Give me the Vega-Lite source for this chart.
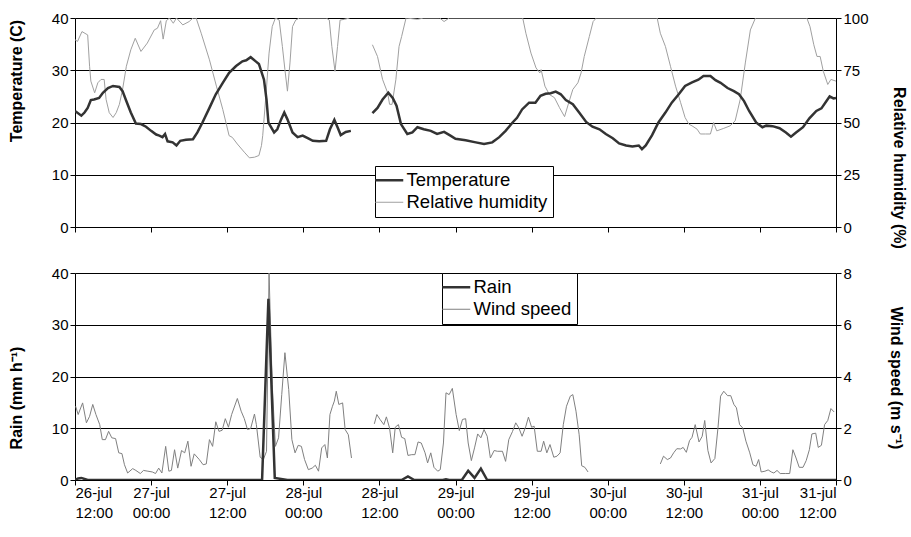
{
  "$schema": "https://vega.github.io/schema/vega-lite/v6.json",
  "background": "white",
  "padding": {"left": 8, "top": 11, "right": 5, "bottom": 5},
  "config": {
    "font": "Liberation Sans",
    "view": {"stroke": null},
    "axis": {
      "labelFont": "Liberation Sans", "labelFontSize": 15, "labelColor": "black",
      "titleFont": "Liberation Sans", "titleFontSize": 16, "titleFontWeight": "bold", "titleColor": "black",
      "domainColor": "black", "tickColor": "black", "tickSize": 5, "gridColor": "black", "gridOpacity": 1,
      "labelPadding": 2
    },
    "legend": {
      "labelFont": "Liberation Sans", "labelFontSize": 18.5, "labelColor": "black",
      "strokeColor": "black", "fillColor": "white", "padding": 5, "cornerRadius": 0,
      "symbolType": "stroke", "symbolSize": 784, "rowPadding": 3, "labelOffset": 8, "title": null
    }
  },
  "datasets": {
    "temperature": [
      {"time": "2009-07-26T12:00", "temperature": 22.2}, {"time": "2009-07-26T13:00", "temperature": 21.3},
      {"time": "2009-07-26T13:30", "temperature": 21.9}, {"time": "2009-07-26T14:00", "temperature": 22.8},
      {"time": "2009-07-26T14:30", "temperature": 24.3}, {"time": "2009-07-26T15:00", "temperature": 24.4},
      {"time": "2009-07-26T15:48", "temperature": 24.7}, {"time": "2009-07-26T16:24", "temperature": 25.7},
      {"time": "2009-07-26T17:12", "temperature": 26.6}, {"time": "2009-07-26T18:00", "temperature": 27.0},
      {"time": "2009-07-26T19:00", "temperature": 26.8}, {"time": "2009-07-26T19:30", "temperature": 26.0},
      {"time": "2009-07-26T20:00", "temperature": 24.4}, {"time": "2009-07-26T20:48", "temperature": 21.9},
      {"time": "2009-07-26T21:36", "temperature": 19.8}, {"time": "2009-07-26T22:24", "temperature": 19.7},
      {"time": "2009-07-26T23:12", "temperature": 19.2}, {"time": "2009-07-27T00:00", "temperature": 18.4},
      {"time": "2009-07-27T00:48", "temperature": 17.7}, {"time": "2009-07-27T01:18", "temperature": 17.5},
      {"time": "2009-07-27T01:48", "temperature": 17.2}, {"time": "2009-07-27T02:12", "temperature": 17.8},
      {"time": "2009-07-27T02:36", "temperature": 16.4}, {"time": "2009-07-27T03:24", "temperature": 16.2},
      {"time": "2009-07-27T04:00", "temperature": 15.6}, {"time": "2009-07-27T04:36", "temperature": 16.5},
      {"time": "2009-07-27T05:30", "temperature": 16.7}, {"time": "2009-07-27T06:36", "temperature": 16.8},
      {"time": "2009-07-27T07:18", "temperature": 18.1}, {"time": "2009-07-27T08:06", "temperature": 20.0},
      {"time": "2009-07-27T09:12", "temperature": 22.8}, {"time": "2009-07-27T10:12", "temperature": 25.4},
      {"time": "2009-07-27T11:18", "temperature": 27.6}, {"time": "2009-07-27T12:18", "temperature": 29.5},
      {"time": "2009-07-27T13:24", "temperature": 30.8}, {"time": "2009-07-27T14:24", "temperature": 31.7},
      {"time": "2009-07-27T15:00", "temperature": 31.9}, {"time": "2009-07-27T15:42", "temperature": 32.5},
      {"time": "2009-07-27T16:30", "temperature": 31.7}, {"time": "2009-07-27T17:00", "temperature": 31.2},
      {"time": "2009-07-27T17:48", "temperature": 28.2}, {"time": "2009-07-27T18:12", "temperature": 24.4},
      {"time": "2009-07-27T18:30", "temperature": 20.0}, {"time": "2009-07-27T19:24", "temperature": 18.1},
      {"time": "2009-07-27T19:54", "temperature": 18.7}, {"time": "2009-07-27T20:30", "temperature": 20.6},
      {"time": "2009-07-27T21:00", "temperature": 21.9}, {"time": "2009-07-27T21:30", "temperature": 20.6},
      {"time": "2009-07-27T22:18", "temperature": 18.1}, {"time": "2009-07-27T23:06", "temperature": 17.2},
      {"time": "2009-07-27T23:54", "temperature": 17.5}, {"time": "2009-07-28T00:42", "temperature": 17.0},
      {"time": "2009-07-28T01:30", "temperature": 16.5}, {"time": "2009-07-28T02:30", "temperature": 16.4},
      {"time": "2009-07-28T03:36", "temperature": 16.5}, {"time": "2009-07-28T04:12", "temperature": 18.7},
      {"time": "2009-07-28T04:54", "temperature": 20.5}, {"time": "2009-07-28T05:24", "temperature": 19.1},
      {"time": "2009-07-28T05:54", "temperature": 17.6}, {"time": "2009-07-28T06:42", "temperature": 18.2},
      {"time": "2009-07-28T07:30", "temperature": 18.4}, {"time": "2009-07-28T09:00", "temperature": null},
      {"time": "2009-07-28T10:54", "temperature": 21.8}, {"time": "2009-07-28T11:42", "temperature": 22.8},
      {"time": "2009-07-28T12:30", "temperature": 24.4}, {"time": "2009-07-28T13:24", "temperature": 25.7},
      {"time": "2009-07-28T14:06", "temperature": 24.7}, {"time": "2009-07-28T14:42", "temperature": 23.2},
      {"time": "2009-07-28T15:24", "temperature": 19.7}, {"time": "2009-07-28T16:24", "temperature": 17.8},
      {"time": "2009-07-28T17:12", "temperature": 18.1}, {"time": "2009-07-28T18:00", "temperature": 19.1},
      {"time": "2009-07-28T19:00", "temperature": 18.7}, {"time": "2009-07-28T20:06", "temperature": 18.4},
      {"time": "2009-07-28T21:06", "temperature": 17.8}, {"time": "2009-07-28T22:12", "temperature": 18.2},
      {"time": "2009-07-28T23:12", "temperature": 17.5}, {"time": "2009-07-29T00:00", "temperature": 16.9},
      {"time": "2009-07-29T01:36", "temperature": 16.6}, {"time": "2009-07-29T03:12", "temperature": 16.2},
      {"time": "2009-07-29T04:30", "temperature": 15.9}, {"time": "2009-07-29T05:48", "temperature": 16.2},
      {"time": "2009-07-29T06:54", "temperature": 17.2}, {"time": "2009-07-29T07:54", "temperature": 18.4},
      {"time": "2009-07-29T09:00", "temperature": 20.0}, {"time": "2009-07-29T09:42", "temperature": 20.9},
      {"time": "2009-07-29T10:30", "temperature": 22.5}, {"time": "2009-07-29T11:36", "temperature": 23.8},
      {"time": "2009-07-29T12:36", "temperature": 23.8}, {"time": "2009-07-29T13:24", "temperature": 25.1},
      {"time": "2009-07-29T14:12", "temperature": 25.5}, {"time": "2009-07-29T15:00", "temperature": 25.6},
      {"time": "2009-07-29T15:48", "temperature": 25.9}, {"time": "2009-07-29T16:36", "temperature": 25.4},
      {"time": "2009-07-29T17:24", "temperature": 24.3}, {"time": "2009-07-29T18:30", "temperature": 23.5},
      {"time": "2009-07-29T19:30", "temperature": 21.9}, {"time": "2009-07-29T20:36", "temperature": 20.1},
      {"time": "2009-07-29T21:36", "temperature": 19.2}, {"time": "2009-07-29T22:42", "temperature": 18.7},
      {"time": "2009-07-29T23:42", "temperature": 17.8}, {"time": "2009-07-30T00:48", "temperature": 17.0},
      {"time": "2009-07-30T01:48", "temperature": 16.0}, {"time": "2009-07-30T02:54", "temperature": 15.6},
      {"time": "2009-07-30T03:54", "temperature": 15.4}, {"time": "2009-07-30T04:54", "temperature": 15.6},
      {"time": "2009-07-30T05:24", "temperature": 14.9}, {"time": "2009-07-30T06:00", "temperature": 15.6},
      {"time": "2009-07-30T07:00", "temperature": 17.6}, {"time": "2009-07-30T08:00", "temperature": 20.0},
      {"time": "2009-07-30T09:06", "temperature": 21.9}, {"time": "2009-07-30T10:06", "temperature": 23.8},
      {"time": "2009-07-30T11:12", "temperature": 25.4}, {"time": "2009-07-30T12:12", "temperature": 27.0},
      {"time": "2009-07-30T13:18", "temperature": 27.7}, {"time": "2009-07-30T14:18", "temperature": 28.2},
      {"time": "2009-07-30T15:06", "temperature": 28.9}, {"time": "2009-07-30T16:12", "temperature": 28.9},
      {"time": "2009-07-30T17:00", "temperature": 28.1}, {"time": "2009-07-30T17:48", "temperature": 27.6},
      {"time": "2009-07-30T18:54", "temperature": 26.6}, {"time": "2009-07-30T19:54", "temperature": 26.0},
      {"time": "2009-07-30T20:42", "temperature": 25.4}, {"time": "2009-07-30T21:30", "temperature": 24.1},
      {"time": "2009-07-30T22:18", "temperature": 22.2}, {"time": "2009-07-30T23:24", "temperature": 20.0},
      {"time": "2009-07-31T00:24", "temperature": 19.1}, {"time": "2009-07-31T01:00", "temperature": 19.4},
      {"time": "2009-07-31T02:00", "temperature": 19.3}, {"time": "2009-07-31T03:06", "temperature": 18.9},
      {"time": "2009-07-31T04:06", "temperature": 18.1}, {"time": "2009-07-31T04:54", "temperature": 17.3},
      {"time": "2009-07-31T05:42", "temperature": 18.1}, {"time": "2009-07-31T06:48", "temperature": 19.1},
      {"time": "2009-07-31T07:48", "temperature": 20.8}, {"time": "2009-07-31T08:54", "temperature": 22.2},
      {"time": "2009-07-31T09:42", "temperature": 22.7}, {"time": "2009-07-31T10:30", "temperature": 24.1},
      {"time": "2009-07-31T11:00", "temperature": 25.0}, {"time": "2009-07-31T11:36", "temperature": 24.6},
      {"time": "2009-07-31T12:00", "temperature": 24.7}
    ],
    "humidity": [
      {"time": "2009-07-26T12:00", "humidity": 89.6}, {"time": "2009-07-26T12:24", "humidity": 88.8},
      {"time": "2009-07-26T13:06", "humidity": 93.5}, {"time": "2009-07-26T14:00", "humidity": 91.9},
      {"time": "2009-07-26T14:18", "humidity": 76.9}, {"time": "2009-07-26T14:30", "humidity": 69.8},
      {"time": "2009-07-26T15:06", "humidity": 64.2}, {"time": "2009-07-26T15:36", "humidity": 69.0},
      {"time": "2009-07-26T16:06", "humidity": 70.6}, {"time": "2009-07-26T16:36", "humidity": 70.6},
      {"time": "2009-07-26T16:54", "humidity": 61.1}, {"time": "2009-07-26T17:24", "humidity": 54.7},
      {"time": "2009-07-26T18:00", "humidity": 52.4}, {"time": "2009-07-26T18:30", "humidity": 54.7},
      {"time": "2009-07-26T19:00", "humidity": 58.7}, {"time": "2009-07-26T19:30", "humidity": 65.8},
      {"time": "2009-07-26T20:06", "humidity": 76.9}, {"time": "2009-07-26T20:48", "humidity": 84.8},
      {"time": "2009-07-26T21:30", "humidity": 90.3}, {"time": "2009-07-26T22:24", "humidity": 84.0},
      {"time": "2009-07-26T23:24", "humidity": 88.0}, {"time": "2009-07-27T00:30", "humidity": 94.3},
      {"time": "2009-07-27T01:00", "humidity": 95.1}, {"time": "2009-07-27T01:30", "humidity": 98.7},
      {"time": "2009-07-27T01:54", "humidity": 89.9}, {"time": "2009-07-27T02:24", "humidity": 98.7},
      {"time": "2009-07-27T02:54", "humidity": 100}, {"time": "2009-07-27T03:30", "humidity": 97.5},
      {"time": "2009-07-27T04:00", "humidity": 100}, {"time": "2009-07-27T05:00", "humidity": 96.7},
      {"time": "2009-07-27T06:00", "humidity": 98.3}, {"time": "2009-07-27T06:36", "humidity": 100},
      {"time": "2009-07-27T07:06", "humidity": 100}, {"time": "2009-07-27T07:54", "humidity": 92.7},
      {"time": "2009-07-27T09:12", "humidity": 80.0}, {"time": "2009-07-27T10:18", "humidity": 67.4},
      {"time": "2009-07-27T11:18", "humidity": 56.3}, {"time": "2009-07-27T12:18", "humidity": 43.7},
      {"time": "2009-07-27T12:48", "humidity": 42.9}, {"time": "2009-07-27T13:36", "humidity": 39.7},
      {"time": "2009-07-27T14:42", "humidity": 35.8}, {"time": "2009-07-27T15:30", "humidity": 33.1},
      {"time": "2009-07-27T16:18", "humidity": 33.4}, {"time": "2009-07-27T17:00", "humidity": 34.2},
      {"time": "2009-07-27T17:24", "humidity": 38.9}, {"time": "2009-07-27T17:36", "humidity": 43.7},
      {"time": "2009-07-27T18:06", "humidity": 62.7}, {"time": "2009-07-27T18:36", "humidity": 83.2},
      {"time": "2009-07-27T19:06", "humidity": 95.9}, {"time": "2009-07-27T19:36", "humidity": 100},
      {"time": "2009-07-27T20:12", "humidity": 99.0}, {"time": "2009-07-27T20:42", "humidity": 86.4},
      {"time": "2009-07-27T21:06", "humidity": 75.3}, {"time": "2009-07-27T21:30", "humidity": 65.0},
      {"time": "2009-07-27T21:54", "humidity": 78.5}, {"time": "2009-07-27T22:18", "humidity": 95.9},
      {"time": "2009-07-27T22:48", "humidity": 99.0}, {"time": "2009-07-27T23:24", "humidity": 100},
      {"time": "2009-07-28T03:36", "humidity": 100}, {"time": "2009-07-28T04:06", "humidity": 99.0},
      {"time": "2009-07-28T04:30", "humidity": 86.4}, {"time": "2009-07-28T05:00", "humidity": 74.5},
      {"time": "2009-07-28T05:24", "humidity": 86.4}, {"time": "2009-07-28T05:48", "humidity": 99.0},
      {"time": "2009-07-28T06:30", "humidity": 99.4}, {"time": "2009-07-28T07:18", "humidity": 100},
      {"time": "2009-07-28T09:00", "humidity": null},
      {"time": "2009-07-28T10:54", "humidity": 87.2}, {"time": "2009-07-28T11:42", "humidity": 81.6},
      {"time": "2009-07-28T12:30", "humidity": 70.6}, {"time": "2009-07-28T13:18", "humidity": 64.2},
      {"time": "2009-07-28T13:36", "humidity": 58.7}, {"time": "2009-07-28T14:00", "humidity": 58.7},
      {"time": "2009-07-28T14:36", "humidity": 70.6}, {"time": "2009-07-28T15:06", "humidity": 86.4},
      {"time": "2009-07-28T15:30", "humidity": 91.1}, {"time": "2009-07-28T16:12", "humidity": 100},
      {"time": "2009-07-28T18:00", "humidity": 99.4}, {"time": "2009-07-28T19:00", "humidity": 100},
      {"time": "2009-07-28T21:30", "humidity": 100}, {"time": "2009-07-28T22:12", "humidity": 98.3},
      {"time": "2009-07-28T23:00", "humidity": 100}, {"time": "2009-07-29T10:36", "humidity": 100},
      {"time": "2009-07-29T11:06", "humidity": 92.7}, {"time": "2009-07-29T11:54", "humidity": 83.2},
      {"time": "2009-07-29T12:42", "humidity": 76.1}, {"time": "2009-07-29T13:18", "humidity": 73.7},
      {"time": "2009-07-29T13:30", "humidity": 75.3}, {"time": "2009-07-29T14:06", "humidity": 67.4},
      {"time": "2009-07-29T14:48", "humidity": 63.4}, {"time": "2009-07-29T15:36", "humidity": 61.9},
      {"time": "2009-07-29T16:24", "humidity": 57.1}, {"time": "2009-07-29T17:12", "humidity": 52.8},
      {"time": "2009-07-29T17:42", "humidity": 57.9}, {"time": "2009-07-29T18:30", "humidity": 65.8},
      {"time": "2009-07-29T19:18", "humidity": 69.0}, {"time": "2009-07-29T19:48", "humidity": 73.7},
      {"time": "2009-07-29T20:18", "humidity": 81.6}, {"time": "2009-07-29T21:06", "humidity": 91.1},
      {"time": "2009-07-29T21:42", "humidity": 98.3}, {"time": "2009-07-29T22:12", "humidity": 100},
      {"time": "2009-07-30T07:48", "humidity": 100}, {"time": "2009-07-30T08:18", "humidity": 92.7},
      {"time": "2009-07-30T09:06", "humidity": 86.4}, {"time": "2009-07-30T09:54", "humidity": 76.9},
      {"time": "2009-07-30T10:42", "humidity": 67.4}, {"time": "2009-07-30T11:30", "humidity": 59.5},
      {"time": "2009-07-30T12:12", "humidity": 52.4}, {"time": "2009-07-30T12:48", "humidity": 49.2},
      {"time": "2009-07-30T13:18", "humidity": 48.4}, {"time": "2009-07-30T14:06", "humidity": 46.8},
      {"time": "2009-07-30T14:36", "humidity": 44.5}, {"time": "2009-07-30T15:24", "humidity": 44.5},
      {"time": "2009-07-30T16:12", "humidity": 44.5}, {"time": "2009-07-30T16:42", "humidity": 50.0},
      {"time": "2009-07-30T17:12", "humidity": 46.0}, {"time": "2009-07-30T18:18", "humidity": 47.2},
      {"time": "2009-07-30T19:18", "humidity": 48.4}, {"time": "2009-07-30T20:06", "humidity": 50.8},
      {"time": "2009-07-30T20:54", "humidity": 61.1}, {"time": "2009-07-30T21:42", "humidity": 78.5},
      {"time": "2009-07-30T22:30", "humidity": 94.3}, {"time": "2009-07-30T23:18", "humidity": 100},
      {"time": "2009-07-31T07:24", "humidity": 100}, {"time": "2009-07-31T07:54", "humidity": 95.9},
      {"time": "2009-07-31T08:30", "humidity": 87.2}, {"time": "2009-07-31T09:00", "humidity": 81.6},
      {"time": "2009-07-31T09:30", "humidity": 81.6}, {"time": "2009-07-31T10:00", "humidity": 74.5},
      {"time": "2009-07-31T10:42", "humidity": 68.2}, {"time": "2009-07-31T11:12", "humidity": 70.6},
      {"time": "2009-07-31T12:00", "humidity": 69.8}
    ],
    "rain": [
      {"time": "2009-07-26T12:00", "rain": 0}, {"time": "2009-07-26T12:30", "rain": 0.3},
      {"time": "2009-07-26T13:00", "rain": 0.4}, {"time": "2009-07-26T13:30", "rain": 0.2},
      {"time": "2009-07-26T14:00", "rain": 0}, {"time": "2009-07-27T17:30", "rain": 0},
      {"time": "2009-07-27T18:30", "rain": 35}, {"time": "2009-07-27T19:30", "rain": 0.4},
      {"time": "2009-07-27T20:30", "rain": 0.2}, {"time": "2009-07-27T21:30", "rain": 0},
      {"time": "2009-07-28T15:30", "rain": 0}, {"time": "2009-07-28T16:30", "rain": 0.7},
      {"time": "2009-07-28T17:30", "rain": 0}, {"time": "2009-07-28T22:00", "rain": 0},
      {"time": "2009-07-28T22:30", "rain": 0.15}, {"time": "2009-07-28T23:00", "rain": 0},
      {"time": "2009-07-29T01:00", "rain": 0}, {"time": "2009-07-29T02:00", "rain": 1.8},
      {"time": "2009-07-29T03:00", "rain": 0.4}, {"time": "2009-07-29T04:00", "rain": 2.2},
      {"time": "2009-07-29T05:00", "rain": 0}, {"time": "2009-07-31T12:00", "rain": 0}
    ],
    "wind": [
      {"time": "2009-07-26T12:06", "wind": 2.85}, {"time": "2009-07-26T12:30", "wind": 2.53},
      {"time": "2009-07-26T13:12", "wind": 2.98}, {"time": "2009-07-26T13:48", "wind": 2.21},
      {"time": "2009-07-26T14:18", "wind": 2.46}, {"time": "2009-07-26T14:48", "wind": 2.92},
      {"time": "2009-07-26T15:18", "wind": 2.53}, {"time": "2009-07-26T15:54", "wind": 2.14},
      {"time": "2009-07-26T16:18", "wind": 1.56}, {"time": "2009-07-26T16:48", "wind": 1.56},
      {"time": "2009-07-26T17:18", "wind": 1.88}, {"time": "2009-07-26T17:48", "wind": 1.63},
      {"time": "2009-07-26T18:24", "wind": 1.6}, {"time": "2009-07-26T18:54", "wind": 1.05},
      {"time": "2009-07-26T19:24", "wind": 1.02}, {"time": "2009-07-26T19:48", "wind": 0.59},
      {"time": "2009-07-26T20:18", "wind": 0.27}, {"time": "2009-07-26T21:06", "wind": 0.44},
      {"time": "2009-07-26T21:36", "wind": 0.37}, {"time": "2009-07-26T22:18", "wind": 0.25},
      {"time": "2009-07-26T22:48", "wind": 0.37}, {"time": "2009-07-26T23:30", "wind": 0.34},
      {"time": "2009-07-27T00:12", "wind": 0.31}, {"time": "2009-07-27T00:42", "wind": 0.25},
      {"time": "2009-07-27T01:12", "wind": 0.46}, {"time": "2009-07-27T01:42", "wind": 0.27},
      {"time": "2009-07-27T02:18", "wind": 1.3}, {"time": "2009-07-27T02:48", "wind": 0.34},
      {"time": "2009-07-27T03:12", "wind": 0.37}, {"time": "2009-07-27T03:42", "wind": 1.17},
      {"time": "2009-07-27T04:12", "wind": 0.46}, {"time": "2009-07-27T04:48", "wind": 1.14},
      {"time": "2009-07-27T05:18", "wind": 1.05}, {"time": "2009-07-27T05:48", "wind": 1.5},
      {"time": "2009-07-27T06:18", "wind": 0.53}, {"time": "2009-07-27T06:48", "wind": 1.01},
      {"time": "2009-07-27T07:36", "wind": 0.79}, {"time": "2009-07-27T08:12", "wind": 0.59},
      {"time": "2009-07-27T08:42", "wind": 0.62}, {"time": "2009-07-27T09:12", "wind": 1.56},
      {"time": "2009-07-27T09:42", "wind": 1.3}, {"time": "2009-07-27T10:12", "wind": 2.25},
      {"time": "2009-07-27T10:42", "wind": 1.88}, {"time": "2009-07-27T11:12", "wind": 1.92},
      {"time": "2009-07-27T11:42", "wind": 2.37}, {"time": "2009-07-27T12:12", "wind": 2.04},
      {"time": "2009-07-27T12:42", "wind": 2.53}, {"time": "2009-07-27T13:36", "wind": 3.15},
      {"time": "2009-07-27T14:12", "wind": 2.66}, {"time": "2009-07-27T14:42", "wind": 2.37},
      {"time": "2009-07-27T15:12", "wind": 1.95}, {"time": "2009-07-27T15:42", "wind": 1.99},
      {"time": "2009-07-27T16:18", "wind": 2.55}, {"time": "2009-07-27T16:36", "wind": 2.14},
      {"time": "2009-07-27T17:12", "wind": 0.88}, {"time": "2009-07-27T17:42", "wind": 0.79},
      {"time": "2009-07-27T18:12", "wind": 1.11}, {"time": "2009-07-27T18:36", "wind": 8.0},
      {"time": "2009-07-27T19:06", "wind": 3.69}, {"time": "2009-07-27T19:36", "wind": 1.3},
      {"time": "2009-07-27T20:06", "wind": 1.63}, {"time": "2009-07-27T20:36", "wind": 3.3},
      {"time": "2009-07-27T21:06", "wind": 4.92}, {"time": "2009-07-27T21:42", "wind": 3.5},
      {"time": "2009-07-27T22:12", "wind": 1.56}, {"time": "2009-07-27T22:42", "wind": 1.05},
      {"time": "2009-07-27T23:12", "wind": 1.34}, {"time": "2009-07-27T23:42", "wind": 1.3},
      {"time": "2009-07-28T00:12", "wind": 0.79}, {"time": "2009-07-28T00:48", "wind": 0.4},
      {"time": "2009-07-28T01:24", "wind": 0.46}, {"time": "2009-07-28T01:54", "wind": 0.57},
      {"time": "2009-07-28T02:24", "wind": 0.34}, {"time": "2009-07-28T02:54", "wind": 1.24},
      {"time": "2009-07-28T03:24", "wind": 1.37}, {"time": "2009-07-28T03:48", "wind": 0.85},
      {"time": "2009-07-28T04:12", "wind": 2.53}, {"time": "2009-07-28T04:36", "wind": 2.85},
      {"time": "2009-07-28T04:54", "wind": 3.05}, {"time": "2009-07-28T05:12", "wind": 3.43},
      {"time": "2009-07-28T05:36", "wind": 2.92}, {"time": "2009-07-28T06:12", "wind": 2.98},
      {"time": "2009-07-28T06:36", "wind": 1.95}, {"time": "2009-07-28T07:06", "wind": 1.75},
      {"time": "2009-07-28T07:36", "wind": 0.85}, {"time": "2009-07-28T09:00", "wind": null},
      {"time": "2009-07-28T11:12", "wind": 2.17}, {"time": "2009-07-28T11:36", "wind": 2.53},
      {"time": "2009-07-28T12:06", "wind": 2.34}, {"time": "2009-07-28T12:42", "wind": 2.14},
      {"time": "2009-07-28T13:06", "wind": 2.44}, {"time": "2009-07-28T13:36", "wind": 2.01},
      {"time": "2009-07-28T14:06", "wind": 1.05}, {"time": "2009-07-28T14:30", "wind": 2.04},
      {"time": "2009-07-28T15:00", "wind": 2.14}, {"time": "2009-07-28T15:30", "wind": 1.65},
      {"time": "2009-07-28T16:00", "wind": 1.6}, {"time": "2009-07-28T16:30", "wind": 0.95},
      {"time": "2009-07-28T17:06", "wind": 0.98}, {"time": "2009-07-28T17:36", "wind": 0.98},
      {"time": "2009-07-28T18:06", "wind": 1.47}, {"time": "2009-07-28T18:36", "wind": 1.43},
      {"time": "2009-07-28T19:12", "wind": 1.05}, {"time": "2009-07-28T19:36", "wind": 0.66},
      {"time": "2009-07-28T20:06", "wind": 1.05}, {"time": "2009-07-28T20:36", "wind": 0.49},
      {"time": "2009-07-28T21:12", "wind": 0.34}, {"time": "2009-07-28T21:36", "wind": 0.4},
      {"time": "2009-07-28T22:06", "wind": 1.43}, {"time": "2009-07-28T22:30", "wind": 3.37},
      {"time": "2009-07-28T23:00", "wind": 3.3}, {"time": "2009-07-28T23:30", "wind": 3.54},
      {"time": "2009-07-29T00:06", "wind": 2.53}, {"time": "2009-07-29T00:36", "wind": 1.91},
      {"time": "2009-07-29T01:06", "wind": 2.34}, {"time": "2009-07-29T01:36", "wind": 2.37},
      {"time": "2009-07-29T02:00", "wind": 1.43}, {"time": "2009-07-29T02:30", "wind": 0.75},
      {"time": "2009-07-29T03:00", "wind": 1.24}, {"time": "2009-07-29T03:30", "wind": 1.78},
      {"time": "2009-07-29T04:00", "wind": 1.63}, {"time": "2009-07-29T04:30", "wind": 1.95},
      {"time": "2009-07-29T05:00", "wind": 1.69}, {"time": "2009-07-29T05:30", "wind": 0.85},
      {"time": "2009-07-29T06:06", "wind": 1.14}, {"time": "2009-07-29T06:36", "wind": 1.11},
      {"time": "2009-07-29T07:24", "wind": 1.11}, {"time": "2009-07-29T07:54", "wind": 0.72},
      {"time": "2009-07-29T08:24", "wind": 1.56}, {"time": "2009-07-29T09:00", "wind": 1.88},
      {"time": "2009-07-29T09:30", "wind": 2.21}, {"time": "2009-07-29T10:00", "wind": 2.01},
      {"time": "2009-07-29T10:30", "wind": 1.69}, {"time": "2009-07-29T11:06", "wind": 2.08},
      {"time": "2009-07-29T11:30", "wind": 2.43}, {"time": "2009-07-29T12:00", "wind": 2.04},
      {"time": "2009-07-29T12:24", "wind": 2.08}, {"time": "2009-07-29T12:54", "wind": 1.11},
      {"time": "2009-07-29T13:30", "wind": 1.11}, {"time": "2009-07-29T13:54", "wind": 1.5},
      {"time": "2009-07-29T14:24", "wind": 1.05}, {"time": "2009-07-29T14:54", "wind": 1.37},
      {"time": "2009-07-29T15:30", "wind": 0.88}, {"time": "2009-07-29T16:00", "wind": 0.92},
      {"time": "2009-07-29T16:30", "wind": 1.05}, {"time": "2009-07-29T17:00", "wind": 2.14},
      {"time": "2009-07-29T17:30", "wind": 2.85}, {"time": "2009-07-29T18:06", "wind": 3.24},
      {"time": "2009-07-29T18:30", "wind": 3.3}, {"time": "2009-07-29T19:00", "wind": 2.66},
      {"time": "2009-07-29T19:30", "wind": 1.75}, {"time": "2009-07-29T19:54", "wind": 0.55},
      {"time": "2009-07-29T20:24", "wind": 0.49}, {"time": "2009-07-29T20:54", "wind": 0.31},
      {"time": "2009-07-30T02:00", "wind": null},
      {"time": "2009-07-30T08:18", "wind": 0.62}, {"time": "2009-07-30T08:48", "wind": 0.92},
      {"time": "2009-07-30T09:24", "wind": 0.79}, {"time": "2009-07-30T09:54", "wind": 0.85},
      {"time": "2009-07-30T10:24", "wind": 1.05}, {"time": "2009-07-30T10:54", "wind": 1.21},
      {"time": "2009-07-30T11:30", "wind": 1.2}, {"time": "2009-07-30T11:54", "wind": 1.26},
      {"time": "2009-07-30T12:24", "wind": 1.07}, {"time": "2009-07-30T12:54", "wind": 1.52},
      {"time": "2009-07-30T13:18", "wind": 1.65}, {"time": "2009-07-30T13:48", "wind": 2.14},
      {"time": "2009-07-30T14:24", "wind": 1.47}, {"time": "2009-07-30T14:54", "wind": 1.69},
      {"time": "2009-07-30T15:18", "wind": 2.3}, {"time": "2009-07-30T15:48", "wind": 1.14},
      {"time": "2009-07-30T16:18", "wind": 0.66}, {"time": "2009-07-30T16:54", "wind": 0.83},
      {"time": "2009-07-30T17:24", "wind": 2.04}, {"time": "2009-07-30T17:48", "wind": 3.24},
      {"time": "2009-07-30T18:18", "wind": 3.43}, {"time": "2009-07-30T18:54", "wind": 3.26},
      {"time": "2009-07-30T19:24", "wind": 3.26}, {"time": "2009-07-30T19:54", "wind": 2.92},
      {"time": "2009-07-30T20:18", "wind": 2.79}, {"time": "2009-07-30T20:48", "wind": 2.14},
      {"time": "2009-07-30T21:18", "wind": 2.01}, {"time": "2009-07-30T21:48", "wind": 1.5},
      {"time": "2009-07-30T22:24", "wind": 1.05}, {"time": "2009-07-30T22:54", "wind": 0.59},
      {"time": "2009-07-30T23:24", "wind": 0.53}, {"time": "2009-07-30T23:48", "wind": 0.79},
      {"time": "2009-07-31T00:12", "wind": 0.31}, {"time": "2009-07-31T00:48", "wind": 0.34},
      {"time": "2009-07-31T01:18", "wind": 0.39}, {"time": "2009-07-31T01:48", "wind": 0.31},
      {"time": "2009-07-31T02:12", "wind": 0.27}, {"time": "2009-07-31T02:42", "wind": 0.37},
      {"time": "2009-07-31T03:12", "wind": 0.25}, {"time": "2009-07-31T04:00", "wind": 0.25},
      {"time": "2009-07-31T04:42", "wind": 0.25}, {"time": "2009-07-31T05:12", "wind": 1.17},
      {"time": "2009-07-31T05:42", "wind": 0.85}, {"time": "2009-07-31T06:12", "wind": 0.49},
      {"time": "2009-07-31T06:48", "wind": 0.49}, {"time": "2009-07-31T07:18", "wind": 0.75},
      {"time": "2009-07-31T07:48", "wind": 1.17}, {"time": "2009-07-31T08:12", "wind": 1.78},
      {"time": "2009-07-31T08:48", "wind": 1.81}, {"time": "2009-07-31T09:12", "wind": 1.26},
      {"time": "2009-07-31T09:42", "wind": 1.34}, {"time": "2009-07-31T10:12", "wind": 2.14},
      {"time": "2009-07-31T10:42", "wind": 2.3}, {"time": "2009-07-31T11:12", "wind": 2.76},
      {"time": "2009-07-31T11:42", "wind": 2.63}
    ]
  },
  "vconcat": [
    {
      "width": 761,
      "height": 209,
      "layer": [
        {
          "data": {"name": "humidity"},
          "mark": {"type": "line", "strokeWidth": 1, "clip": true},
          "encoding": {
            "x": {"field": "time", "type": "temporal",
              "scale": {"domain": [{"year": 2009, "month": 7, "date": 26, "hours": 12}, {"year": 2009, "month": 7, "date": 31, "hours": 12}]},
              "axis": {"title": null, "labels": false, "grid": false,
                "values": [{"year": 2009, "month": 7, "date": 26, "hours": 12}, {"year": 2009, "month": 7, "date": 27, "hours": 0}, {"year": 2009, "month": 7, "date": 27, "hours": 12}, {"year": 2009, "month": 7, "date": 28, "hours": 0}, {"year": 2009, "month": 7, "date": 28, "hours": 12}, {"year": 2009, "month": 7, "date": 29, "hours": 0}, {"year": 2009, "month": 7, "date": 29, "hours": 12}, {"year": 2009, "month": 7, "date": 30, "hours": 0}, {"year": 2009, "month": 7, "date": 30, "hours": 12}, {"year": 2009, "month": 7, "date": 31, "hours": 0}, {"year": 2009, "month": 7, "date": 31, "hours": 12}]}},
            "y": {"field": "humidity", "type": "quantitative", "scale": {"domain": [0, 100]},
              "axis": {"orient": "right", "title": "Relative humidity (%)", "values": [0, 25, 50, 75, 100], "grid": false, "titlePadding": 22, "titleY": 149.5}},
            "color": {"datum": "Relative humidity", "type": "nominal",
              "scale": {"domain": ["Temperature", "Relative humidity"], "range": ["#333333", "#a0a0a0"]},
              "legend": {"orient": "none", "legendX": 300, "legendY": 148,
                "encode": {"symbols": {"update": {"strokeWidth": {"signal": "datum.value === 'Temperature' ? 2.5 : 1"}}}}}}
          }
        },
        {
          "data": {"name": "temperature"},
          "mark": {"type": "line", "strokeWidth": 2.5, "clip": true},
          "encoding": {
            "x": {"field": "time", "type": "temporal"},
            "y": {"field": "temperature", "type": "quantitative", "scale": {"domain": [0, 40]},
              "axis": {"orient": "left", "title": "Temperature (C)", "values": [0, 10, 20, 30, 40], "grid": true, "titlePadding": 27, "titleY": 62.5}},
            "color": {"datum": "Temperature", "type": "nominal"}
          }
        }
      ],
      "resolve": {"scale": {"y": "independent"}}
    },
    {
      "width": 761,
      "height": 207,
      "layer": [
        {
          "data": {"name": "wind"},
          "mark": {"type": "line", "strokeWidth": 1, "clip": true},
          "encoding": {
            "x": {"field": "time", "type": "temporal",
              "scale": {"domain": [{"year": 2009, "month": 7, "date": 26, "hours": 12}, {"year": 2009, "month": 7, "date": 31, "hours": 12}]},
              "axis": {"title": null, "grid": false, "labelLineHeight": 20, "labelPadding": 0,
                "labelExpr": "[lower(timeFormat(datum.value, '%d-%b')), timeFormat(datum.value, '%H:%M')]",
                "values": [{"year": 2009, "month": 7, "date": 26, "hours": 12}, {"year": 2009, "month": 7, "date": 27, "hours": 0}, {"year": 2009, "month": 7, "date": 27, "hours": 12}, {"year": 2009, "month": 7, "date": 28, "hours": 0}, {"year": 2009, "month": 7, "date": 28, "hours": 12}, {"year": 2009, "month": 7, "date": 29, "hours": 0}, {"year": 2009, "month": 7, "date": 29, "hours": 12}, {"year": 2009, "month": 7, "date": 30, "hours": 0}, {"year": 2009, "month": 7, "date": 30, "hours": 12}, {"year": 2009, "month": 7, "date": 31, "hours": 0}, {"year": 2009, "month": 7, "date": 31, "hours": 12}]}},
            "y": {"field": "wind", "type": "quantitative", "scale": {"domain": [0, 8]},
              "axis": {"orient": "right", "title": "Wind speed (m s⁻¹)", "values": [0, 2, 4, 6, 8], "grid": false, "titlePadding": 36, "titleY": 104.5}},
            "color": {"datum": "Wind speed", "type": "nominal",
              "scale": {"domain": ["Rain", "Wind speed"], "range": ["#333333", "#808080"]},
              "legend": {"orient": "none", "legendX": 367, "legendY": 0,
                "encode": {"symbols": {"update": {"strokeWidth": {"signal": "datum.value === 'Rain' ? 2.5 : 1"}}}}}}
          }
        },
        {
          "data": {"name": "rain"},
          "mark": {"type": "line", "strokeWidth": 2.5, "clip": true},
          "encoding": {
            "x": {"field": "time", "type": "temporal"},
            "y": {"field": "rain", "type": "quantitative", "scale": {"domain": [0, 40]},
              "axis": {"orient": "left", "title": "Rain (mm h⁻¹)", "values": [0, 10, 20, 30, 40], "grid": true, "titlePadding": 27, "titleY": 124.5}},
            "color": {"datum": "Rain", "type": "nominal"}
          }
        }
      ],
      "resolve": {"scale": {"y": "independent"}}
    }
  ],
  "spacing": 17,
  "resolve": {"scale": {"color": "independent"}, "legend": {"color": "independent"}}
}
